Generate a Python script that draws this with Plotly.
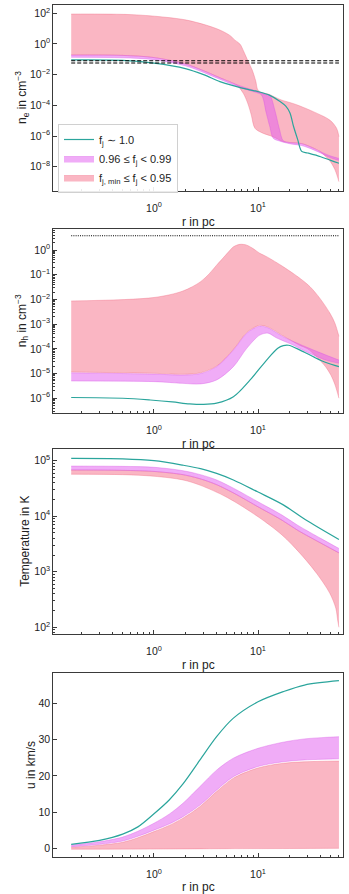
import plotly.graph_objects as go

# ---- colours ----
TEAL = "#2ba59c"
PINK_FILL = "rgba(245,110,135,0.5)"
PINK_EDGE = "rgba(240,100,125,0.6)"
MAG_FILL = "rgba(225,89,239,0.5)"
MAG_EDGE = "rgba(215,80,230,0.6)"
AXIS_COL = "#3a3a3a"
FONT = "Liberation Sans, Arial, sans-serif"

# ---- panel 1: electron density n_e (cm^-3) ----
r_ne_teal = [0.16, 0.5, 1.0, 2.0, 3.0, 4.3, 6.0, 8.0, 10.0, 13.0, 16.3, 18.5,
             20.3, 21.9, 24.0, 26.3, 30.0, 40.0, 50.0, 60.0]
ne_teal = [9.1e-2, 8.5e-2, 5.6e-2, 2.5e-2, 1.0e-2, 3.5e-3, 1.8e-3, 1.1e-3, 7.9e-4,
           4.5e-4, 1.8e-4, 8.9e-5, 3.2e-5, 4.5e-6, 6.3e-7, 1.0e-7, 7.9e-8, 4.5e-8,
           2.6e-8, 1.7e-8]

r_ne_mag_hi = [0.16, 0.5, 1.0, 2.0, 3.0, 4.3, 6.0, 8.0, 10.0, 10.8, 12.0, 13.0,
               14.5, 16.0, 17.5, 20.0, 26.3, 33.0, 39.4, 50.0, 60.0]
ne_mag_hi = [1.9e-1, 1.8e-1, 1.3e-1, 5.0e-2, 1.8e-2, 6.3e-3, 2.5e-3, 1.26e-3,
             7.9e-4, 6.3e-4, 5.0e-4, 4.5e-4, 5.0e-5, 3.2e-6, 5.0e-7, 3.8e-7,
             3.2e-7, 1.8e-7, 1.0e-7, 5.0e-8, 3.5e-8]
r_ne_mag_lo = [0.16, 0.5, 1.0, 2.0, 3.0, 4.3, 6.0, 8.0, 9.5, 10.8, 12.0, 13.0,
               14.0, 16.0, 20.0, 26.3, 33.0, 39.4, 50.0, 60.0]
ne_mag_lo = [1.35e-1, 1.26e-1, 9.5e-2, 3.8e-2, 1.4e-2, 5.0e-3, 2.0e-3, 1.0e-3,
             7.1e-4, 4.8e-4, 3.2e-5, 4.0e-6, 7.2e-7, 4.8e-7, 3.2e-7, 2.4e-7,
             1.4e-7, 8.3e-8, 3.8e-8, 2.6e-8]

r_ne_pink_hi = [0.16, 0.3, 0.63, 1.3, 2.06, 3.2, 4.3, 5.4, 6.0, 6.7, 7.3, 8.0,
                8.8, 9.5, 10.1, 13.0, 16.3, 22.7, 34.0, 49.0, 57.0, 60.0]
ne_pink_hi = [89.0, 89.0, 81.0, 55.0, 36.0, 16.6, 8.1, 3.5, 1.78, 1.0, 0.32,
              7.9e-2, 2.0e-2, 4.0e-3, 8.9e-4, 5.0e-4, 2.4e-4, 1.2e-4, 3.9e-5,
              1.1e-5, 3.2e-6, 9.1e-7]
r_ne_pink_lo = [0.16, 0.5, 1.0, 2.0, 3.0, 4.3, 5.5, 6.3, 7.2, 8.0, 8.6, 9.35,
                11.0, 13.9, 17.4, 20.0, 26.3, 33.0, 39.4, 45.0, 50.0, 55.0, 60.0]
ne_pink_lo = [1.9e-1, 1.8e-1, 1.3e-1, 5.0e-2, 1.8e-2, 6.3e-3, 3.2e-3, 2.0e-3,
              6.3e-4, 1.26e-4, 2.5e-5, 3.2e-6, 1.6e-6, 9.1e-7, 4.4e-7, 3.8e-7,
              3.2e-7, 1.8e-7, 1.0e-7, 4.5e-8, 2.0e-8, 6.3e-9, 1.07e-9]

ne_ref_levels = [8.1e-2, 5.8e-2]

# ---- panel 2: hydrogen density n_h (cm^-3) ----
r_nh_teal = [0.16, 0.5, 0.92, 1.5, 2.2, 3.0, 4.0, 5.8, 8.4, 12.1, 15.5, 17.5,
             19.6, 25.4, 35.0, 45.0, 60.0]
nh_teal = [1.07e-6, 1.0e-6, 8.5e-7, 7.1e-7, 5.9e-7, 5.6e-7, 6.3e-7, 1.15e-6,
           5.5e-6, 3.5e-5, 1.05e-4, 1.35e-4, 1.4e-4, 8.9e-5, 4.5e-5, 2.8e-5,
           1.9e-5]

r_nh_mag_hi = [0.16, 1.0, 1.9, 2.8, 4.0, 5.8, 7.8, 9.9, 10.8, 12.5, 17.5, 30.0,
               45.0, 60.0]
nh_mag_hi = [1.07e-5, 9.5e-6, 8.7e-6, 1.0e-5, 1.9e-5, 8.9e-5, 4.3e-4, 7.9e-4,
             8.3e-4, 7.1e-4, 3.1e-4, 1.12e-4, 5.6e-5, 3.5e-5]
r_nh_mag_lo = [0.16, 1.0, 1.9, 2.8, 4.0, 5.8, 7.8, 10.4, 12.5, 15.0, 21.9, 30.0,
               45.0, 60.0]
nh_mag_lo = [5.0e-6, 4.7e-6, 4.0e-6, 3.8e-6, 5.5e-6, 1.9e-5, 1.05e-4, 3.6e-4,
             4.3e-4, 2.8e-4, 1.4e-4, 7.1e-5, 3.5e-5, 2.6e-5]

r_nh_pink_hi = [0.16, 1.0, 1.9, 2.8, 3.4, 4.0, 4.7, 5.4, 5.8, 6.7, 7.8, 8.9,
                10.4, 12.1, 17.5, 25.4, 31.6, 39.4, 49.2, 55.0, 60.0]
nh_pink_hi = [8.7e-3, 1.2e-2, 2.2e-2, 5.2e-2, 0.11, 0.245, 0.52, 1.0, 1.35,
              1.7, 1.58, 1.17, 0.74, 0.54, 0.21, 7.1e-2, 3.3e-2, 1.1e-2, 2.75e-3,
              1.07e-3, 3.2e-4]
r_nh_pink_lo = [0.16, 1.0, 1.9, 2.8, 4.0, 5.8, 7.8, 9.9, 10.8, 12.5, 17.5, 25.0,
                30.0, 35.0, 40.0, 45.0, 50.0, 55.0, 60.0]
nh_pink_lo = [1.15e-5, 1.02e-5, 9.3e-6, 1.07e-5, 2.0e-5, 9.5e-5, 4.6e-4, 8.5e-4,
              8.9e-4, 7.6e-4, 3.3e-4, 1.4e-4, 1.0e-4, 5.6e-5, 3.2e-5, 1.8e-5,
              8.9e-6, 3.5e-6, 1.0e-6]

nh_ref_level = 3.8

# ---- panel 3: temperature (K) ----
r_T_teal = [0.16, 0.5, 1.0, 1.9, 2.8, 4.0, 5.8, 9.9, 17.5, 28.4, 60.0]
T_teal = [1.10e5, 1.08e5, 1.0e5, 8.3e4, 7.2e4, 5.9e4, 4.5e4, 2.75e4, 1.6e4,
          8.7e3, 3.8e3]

r_T_band = [0.16, 0.5, 1.0, 1.9, 2.8, 4.0, 5.8, 10.0, 17.0, 24.0, 40.0, 60.0]
T_mag_hi = [8.0e4, 7.9e4, 7.6e4, 6.6e4, 5.6e4, 4.5e4, 3.2e4, 1.82e4, 1.05e4,
            6.9e3, 4.0e3, 2.63e3]
T_mag_lo = [6.8e4, 6.7e4, 6.4e4, 5.6e4, 4.7e4, 3.7e4, 2.63e4, 1.48e4, 8.5e3,
            5.6e3, 3.3e3, 2.19e3]

r_T_pink_lo = [0.16, 0.5, 1.0, 1.9, 2.8, 5.0, 10.0, 17.0, 25.4, 36.7, 49.0,
               56.0, 58.5, 60.0]
T_pink_lo = [5.7e4, 5.6e4, 5.25e4, 4.5e4, 3.6e4, 2.2e4, 9.8e3, 4.6e3, 2.14e3,
             9.3e2, 4.1e2, 2.2e2, 1.3e2, 1.0e2]

# ---- panel 4: velocity u (km/s) ----
r_u_teal = [0.16, 0.3, 0.5, 0.7, 1.0, 1.4, 1.9, 2.77, 4.0, 5.8, 10.0, 17.5,
            28.0, 60.0]
u_teal = [1.2, 2.3, 4.0, 6.0, 9.6, 13.4, 17.8, 24.4, 30.8, 35.9, 40.4, 43.2,
          45.0, 46.2]

r_u_band = [0.16, 0.3, 0.5, 0.7, 1.0, 1.4, 1.9, 2.77, 4.0, 5.8, 10.0, 17.5,
            28.0, 60.0]
u_mag_hi = [1.0, 1.9, 3.2, 4.8, 7.0, 9.5, 12.5, 17.1, 21.6, 24.9, 27.6, 29.3,
            30.2, 30.8]
u_mag_lo = [0.55, 1.2, 2.1, 3.4, 5.1, 6.8, 8.8, 12.0, 16.1, 19.8, 22.6, 23.9,
            24.4, 24.7]
u_pink_hi = [0.4, 0.95, 1.75, 3.0, 4.7, 6.4, 8.4, 11.6, 15.7, 19.4, 22.2, 23.5,
             23.9, 24.1]

r_u_pink_lo = [0.16, 1.0, 5.0, 20.0, 60.0]
u_pink_lo = [-0.15, -0.1, 0.0, 0.05, 0.1]

# ---- tick positions ----
x_major = [1, 10]
x_major_text = ["10<sup>0</sup>", "10<sup>1</sup>"]
x_minor = [0.2, 0.3, 0.4, 0.5, 0.6, 0.7, 0.8, 0.9,
           2, 3, 4, 5, 6, 7, 8, 9, 20, 30, 40, 50, 60]

ne_ticks = [1e2, 1e0, 1e-2, 1e-4, 1e-6, 1e-8]
ne_ticktext = ["10<sup>2</sup>", "10<sup>0</sup>", "10<sup>−2</sup>",
               "10<sup>−4</sup>", "10<sup>−6</sup>", "10<sup>−8</sup>"]
nh_ticks = [1e0, 1e-1, 1e-2, 1e-3, 1e-4, 1e-5, 1e-6]
nh_ticktext = ["10<sup>0</sup>", "10<sup>−1</sup>", "10<sup>−2</sup>",
               "10<sup>−3</sup>", "10<sup>−4</sup>", "10<sup>−5</sup>",
               "10<sup>−6</sup>"]
nh_minor = [m * 10.0 ** e for e in range(-7, 1) for m in range(2, 10)]
T_ticks = [1e2, 1e3, 1e4, 1e5]
T_ticktext = ["10<sup>2</sup>", "10<sup>3</sup>", "10<sup>4</sup>", "10<sup>5</sup>"]
T_minor = [m * 10.0 ** e for e in range(1, 6) for m in range(2, 10)]
u_ticks = [0, 10, 20, 30, 40]

LEG_TEAL = "f<sub>j</sub> ∼ 1.0"
LEG_MAG = "0.96 ≤ f<sub>j</sub> &lt; 0.99"
LEG_PINK = "f<sub>j, min</sub> ≤ f<sub>j</sub> &lt; 0.95"


def band(fig, r_hi, hi, r_lo, lo, fill, edge, name, xa, ya, show, rank):
    """Filled region between a lower and an upper curve (fill to the lower one)."""
    smooth = dict(color=edge, width=0.6, shape="spline", smoothing=0.9)
    fig.add_trace(go.Scatter(
        x=r_lo, y=lo, mode="lines", line=smooth, showlegend=False,
        xaxis=xa, yaxis=ya, hoverinfo="skip",
    ))
    fig.add_trace(go.Scatter(
        x=r_hi, y=hi, mode="lines", line=smooth, fill="tonexty", fillcolor=fill,
        name=name, showlegend=show, legendrank=rank,
        xaxis=xa, yaxis=ya, hoverinfo="skip",
    ))


def curve(fig, r, v, xa, ya, show=False, **line):
    fig.add_trace(go.Scatter(
        x=r, y=v, mode="lines", line=line, name=LEG_TEAL,
        showlegend=show, legendrank=1, xaxis=xa, yaxis=ya, hoverinfo="skip",
    ))


fig = go.Figure()
TEAL_LINE = dict(color=TEAL, width=1.2, shape="spline", smoothing=0.9)

# panel 1
band(fig, r_ne_pink_hi, ne_pink_hi, r_ne_pink_lo, ne_pink_lo,
     PINK_FILL, PINK_EDGE, LEG_PINK, "x", "y", True, 3)
band(fig, r_ne_mag_hi, ne_mag_hi, r_ne_mag_lo, ne_mag_lo,
     MAG_FILL, MAG_EDGE, LEG_MAG, "x", "y", True, 2)
curve(fig, r_ne_teal, ne_teal, "x", "y", True, **TEAL_LINE)
for lev in ne_ref_levels:
    curve(fig, [r_ne_teal[0], r_ne_teal[-1]], [lev, lev], "x", "y",
          color="black", width=1.1, dash="4px,2px")

# panel 2
band(fig, r_nh_pink_hi, nh_pink_hi, r_nh_pink_lo, nh_pink_lo,
     PINK_FILL, PINK_EDGE, LEG_PINK, "x2", "y2", False, 3)
band(fig, r_nh_mag_hi, nh_mag_hi, r_nh_mag_lo, nh_mag_lo,
     MAG_FILL, MAG_EDGE, LEG_MAG, "x2", "y2", False, 2)
curve(fig, r_nh_teal, nh_teal, "x2", "y2", **TEAL_LINE)
curve(fig, [r_nh_teal[0], r_nh_teal[-1]], [nh_ref_level, nh_ref_level],
      "x2", "y2", color="black", width=1.1, dash="1px,1.2px")

# panel 3
band(fig, r_T_band, T_mag_lo, r_T_pink_lo, T_pink_lo,
     PINK_FILL, PINK_EDGE, LEG_PINK, "x3", "y3", False, 3)
band(fig, r_T_band, T_mag_hi, r_T_band, T_mag_lo,
     MAG_FILL, MAG_EDGE, LEG_MAG, "x3", "y3", False, 2)
curve(fig, r_T_teal, T_teal, "x3", "y3", **TEAL_LINE)

# panel 4
band(fig, r_u_band, u_pink_hi, r_u_pink_lo, u_pink_lo,
     PINK_FILL, PINK_EDGE, LEG_PINK, "x4", "y4", False, 3)
band(fig, r_u_band, u_mag_hi, r_u_band, u_mag_lo,
     MAG_FILL, MAG_EDGE, LEG_MAG, "x4", "y4", False, 2)
curve(fig, r_u_teal, u_teal, "x4", "y4", **TEAL_LINE)

# ---- axes ----
X_DOM = [53.3 / 349, 343.3 / 349]
Y_DOMS = [  # pixel top/bottom of each panel box
    (5, 191), (229.3, 413.3), (449.3, 634.3), (672.7, 857.3)
]
Y_TITLES = ["n<sub>e</sub> in cm<sup>−3</sup>", "n<sub>h</sub> in cm<sup>−3</sup>",
            "Temperature in K", "u in km/s"]
Y_TITLE_X = [22, 22, 25, 31]
Y_RANGES = [[-9.58, 2.54], [-6.61, 0.84], [1.874, 5.205], [-2.37, 48.4]]

common = dict(
    showline=True, linecolor=AXIS_COL, linewidth=1.2, mirror=True,
    showgrid=False, zeroline=False, ticks="inside", ticklen=4, tickwidth=1,
    tickcolor=AXIS_COL, tickfont=dict(size=10.5, color="#222", family=FONT),
)

layout_axes = {}
titles = []
for i in range(4):
    sfx = "" if i == 0 else str(i + 1)
    top, bot = Y_DOMS[i]
    layout_axes["xaxis" + sfx] = dict(
        common, type="log", range=[-0.968, 1.82], domain=X_DOM,
        anchor="y" + sfx, tickmode="array", tickvals=x_major, ticktext=x_major_text,
        ticklabelstandoff=7,
        minor=dict(tickmode="array", tickvals=x_minor, ticks="inside",
                   ticklen=2, tickwidth=0.8, tickcolor=AXIS_COL),
        title=dict(text="r in pc", font=dict(size=12, color="#222", family=FONT),
                   standoff=4),
    )
    yax = dict(
        common, domain=[1 - bot / 894, 1 - top / 894], anchor="x" + sfx,
        range=Y_RANGES[i],
    )
    if i == 0:
        yax.update(type="log", tickmode="array", tickvals=ne_ticks, ticktext=ne_ticktext)
    elif i == 1:
        yax.update(type="log", tickmode="array", tickvals=nh_ticks, ticktext=nh_ticktext,
                   minor=dict(tickmode="array", tickvals=nh_minor, ticks="inside",
                              ticklen=2, tickwidth=0.8, tickcolor=AXIS_COL))
    elif i == 2:
        yax.update(type="log", tickmode="array", tickvals=T_ticks, ticktext=T_ticktext,
                   minor=dict(tickmode="array", tickvals=T_minor, ticks="inside",
                              ticklen=2, tickwidth=0.8, tickcolor=AXIS_COL))
    else:
        yax.update(tickmode="array", tickvals=u_ticks)
    layout_axes["yaxis" + sfx] = yax
    titles.append(dict(
        text=Y_TITLES[i], textangle=-90, showarrow=False,
        xref="paper", yref="paper", x=Y_TITLE_X[i] / 349,
        y=1 - (top + bot) / 2 / 894, xanchor="center", yanchor="middle",
        font=dict(size=12, color="#222", family=FONT),
    ))

fig.update_layout(
    width=349, height=894,
    margin=dict(l=0, r=0, t=0, b=0),
    paper_bgcolor="white", plot_bgcolor="white",
    font=dict(family=FONT, color="#222", size=11),
    legend=dict(
        x=58 / 349, y=1 - 124 / 894, xanchor="left", yanchor="top",
        bgcolor="rgba(255,255,255,0.9)", bordercolor="#d0d0d0", borderwidth=1,
        font=dict(size=11, family=FONT, color="#222"),
        tracegroupgap=0, itemwidth=30, traceorder="normal",
    ),
    annotations=titles,
    **layout_axes,
)

# the page's default body margin would push the figure off the window
fig.write_html("out.html", config={"displayModeBar": False},
               post_script="document.body.style.margin='0px';")
